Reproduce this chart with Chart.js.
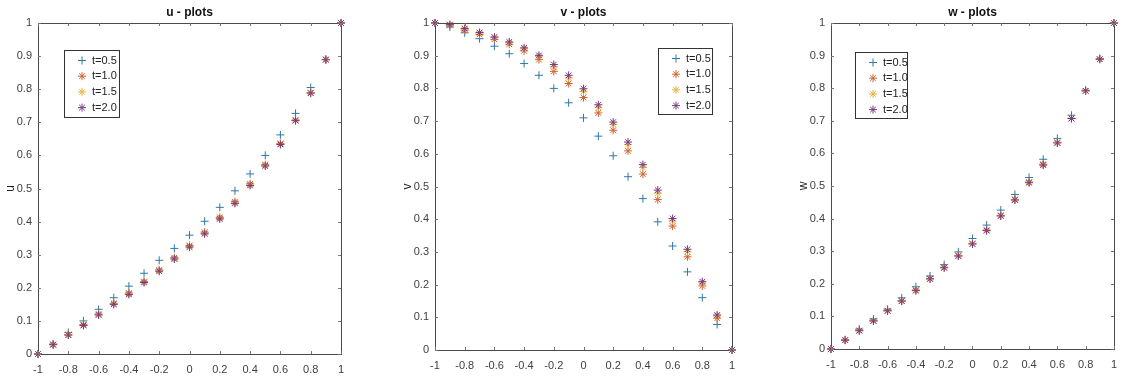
<!DOCTYPE html>
<html>
<head>
<meta charset="utf-8">
<script src="https://cdn.jsdelivr.net/npm/chart.js@4/dist/chart.umd.min.js"></script>
<style>
  html, body { margin: 0; padding: 0; background: #fff; }
  .wrap { position: absolute; top: 0; height: 383px; }
</style>
</head>
<body>
<div class="wrap" style="left:0;width:380px"><canvas id="uChart"></canvas></div>
<div class="wrap" style="left:380px;width:380px"><canvas id="vChart"></canvas></div>
<div class="wrap" style="left:760px;width:366px"><canvas id="wChart"></canvas></div>
<script>
// x positions shared by every plot
let xVals = [-1, -0.9, -0.8, -0.7, -0.6, -0.5, -0.4, -0.3, -0.2, -0.1, 0, 0.1, 0.2, 0.3, 0.4, 0.5, 0.6, 0.7, 0.8, 0.9, 1];
let seriesLabels = ["t=0.5", "t=1.0", "t=1.5", "t=2.0"];
let xTicks = [-1, -0.8, -0.6, -0.4, -0.2, 0, 0.2, 0.4, 0.6, 0.8, 1];
let yTicks = [0, 0.1, 0.2, 0.3, 0.4, 0.5, 0.6, 0.7, 0.8, 0.9, 1];

// u - plots
let u05 = [0, 0.030, 0.065, 0.100, 0.135, 0.170, 0.205, 0.244, 0.283, 0.319, 0.359, 0.401, 0.443, 0.493, 0.544, 0.600, 0.662, 0.727, 0.805, 0.890, 1];
let u10 = [0, 0.029, 0.059, 0.089, 0.121, 0.153, 0.184, 0.219, 0.254, 0.291, 0.328, 0.368, 0.413, 0.460, 0.514, 0.572, 0.636, 0.707, 0.790, 0.890, 1];
let u15 = [0, 0.028, 0.058, 0.087, 0.119, 0.151, 0.181, 0.217, 0.252, 0.288, 0.325, 0.365, 0.410, 0.457, 0.511, 0.569, 0.634, 0.705, 0.789, 0.889, 1];
let u20 = [0, 0.028, 0.057, 0.086, 0.118, 0.150, 0.180, 0.216, 0.250, 0.287, 0.323, 0.363, 0.408, 0.455, 0.509, 0.568, 0.633, 0.705, 0.788, 0.889, 1];

// v - plots
let v05 = [1, 0.988, 0.970, 0.952, 0.929, 0.906, 0.876, 0.840, 0.800, 0.756, 0.710, 0.654, 0.594, 0.530, 0.463, 0.392, 0.318, 0.239, 0.160, 0.078, 0];
let v10 = [1, 0.993, 0.978, 0.965, 0.950, 0.935, 0.915, 0.888, 0.852, 0.815, 0.772, 0.725, 0.672, 0.609, 0.538, 0.460, 0.379, 0.285, 0.196, 0.097, 0];
let v15 = [1, 0.994, 0.981, 0.969, 0.955, 0.940, 0.921, 0.897, 0.866, 0.832, 0.790, 0.742, 0.690, 0.628, 0.558, 0.480, 0.395, 0.301, 0.205, 0.104, 0];
let v20 = [1, 0.995, 0.983, 0.971, 0.957, 0.942, 0.924, 0.901, 0.873, 0.840, 0.799, 0.750, 0.697, 0.636, 0.567, 0.489, 0.402, 0.308, 0.209, 0.107, 0];

// w - plots
let w05 = [0, 0.028, 0.061, 0.092, 0.122, 0.157, 0.191, 0.224, 0.259, 0.298, 0.339, 0.380, 0.426, 0.474, 0.526, 0.582, 0.646, 0.717, 0.794, 0.891, 1];
let w10 = [0, 0.028, 0.057, 0.087, 0.118, 0.148, 0.181, 0.216, 0.251, 0.287, 0.324, 0.365, 0.410, 0.459, 0.512, 0.567, 0.634, 0.708, 0.792, 0.889, 1];
let w15 = [0, 0.027, 0.056, 0.086, 0.117, 0.147, 0.180, 0.215, 0.250, 0.286, 0.323, 0.364, 0.409, 0.458, 0.511, 0.565, 0.633, 0.707, 0.792, 0.889, 1];
let w20 = [0, 0.027, 0.056, 0.086, 0.117, 0.147, 0.179, 0.215, 0.249, 0.285, 0.322, 0.363, 0.408, 0.457, 0.510, 0.564, 0.632, 0.707, 0.792, 0.889, 1];

let colors = ['#2f78a8', '#d0612f', '#e6b23a', '#7a3a86'];
let styles = ['cross', 'star', 'star', 'star'];
const axisColor = '#4a4a4a';
const fontFamily = "'Liberation Sans', Arial, sans-serif";

//box around the axes with inward ticks on all four sides, like matlab
const boxPlugin = {
    id: 'boxPlugin',
    afterDraw(chart) {
        const ctx = chart.ctx;
        const a = chart.chartArea;
        const xs = chart.scales.x;
        const ys = chart.scales.y;
        ctx.save();
        ctx.strokeStyle = axisColor;
        ctx.lineWidth = 1;
        ctx.strokeRect(Math.round(a.left) + 0.5, Math.round(a.top) + 0.5, Math.round(a.right - a.left), Math.round(a.bottom - a.top));
        ctx.strokeStyle = '#777';
        ctx.beginPath();
        for (const t of xTicks) {
            const px = Math.round(xs.getPixelForValue(t)) + 0.5;
            ctx.moveTo(px, a.bottom); ctx.lineTo(px, a.bottom - 3);
            ctx.moveTo(px, a.top); ctx.lineTo(px, a.top + 3);
        }
        for (const t of yTicks) {
            const py = Math.round(ys.getPixelForValue(t)) + 0.5;
            ctx.moveTo(a.left, py); ctx.lineTo(a.left + 3, py);
            ctx.moveTo(a.right, py); ctx.lineTo(a.right - 3, py);
        }
        ctx.stroke();
        ctx.restore();
    }
};

//legend drawn inside the axes with a border
const legendPlugin = {
    id: 'boxLegend',
    afterDraw(chart, args, opts) {
        const ctx = chart.ctx;
        const a = chart.chartArea;
        const x0 = a.left + opts.x;
        const y0 = a.top + opts.y;
        ctx.save();
        ctx.fillStyle = '#fff';
        ctx.fillRect(x0, y0, opts.w, opts.h);
        ctx.strokeStyle = '#333';
        ctx.lineWidth = 1;
        ctx.strokeRect(Math.round(x0) + 0.5, Math.round(y0) + 0.5, opts.w, opts.h);
        seriesLabels.forEach(function (label, i) {
            const ds = chart.data.datasets[i];
            const yy = y0 + 10.5 + i * 15.7;
            ctx.strokeStyle = ds.borderColor;
            ctx.fillStyle = ds.borderColor;
            ctx.lineWidth = 1;
            Chart.helpers.drawPoint(ctx, {pointStyle: ds.pointStyle, radius: 4, rotation: 0, borderWidth: 1}, x0 + 18, yy);
            ctx.fillStyle = '#222';
            ctx.font = '11px ' + fontFamily;
            ctx.textBaseline = 'middle';
            ctx.fillText(label, x0 + 28, yy);
        });
        ctx.restore();
    }
};

function makeChart(id, titleText, yName, series, layout) {
    let datasets = series.map(function (vals, i) {
        return {
            label: seriesLabels[i],
            data: xVals.map(function (x, k) { return {x: x, y: vals[k]}; }),
            pointStyle: styles[i],
            pointRadius: 4,
            pointBorderWidth: 1,
            borderColor: colors[i],
            backgroundColor: colors[i],
            showLine: false,
            clip: false,
            order: series.length - i   // later series drawn on top
        };
    });

    return new Chart(document.getElementById(id), {
        type: 'scatter',
        data: {datasets: datasets},
        plugins: [boxPlugin, legendPlugin],
        options: {
            responsive: true,
            maintainAspectRatio: false,
            animation: false,
            layout: {padding: {left: layout.padLeft, right: layout.padRight, top: 0, bottom: 0}},
            plugins: {
                legend: {display: false},
                tooltip: {enabled: false},
                title: {
                    display: true,
                    text: titleText,
                    fullSize: false,
                    color: '#111',
                    font: {family: fontFamily, size: 12, weight: 'bold', lineHeight: 1.2},
                    padding: {top: 5, bottom: 3.6}
                },
                boxLegend: layout.legend
            },
            scales: {
                x: {
                    type: 'linear',
                    min: -1,
                    max: 1,
                    grid: {display: false, drawTicks: false},
                    border: {display: false},
                    afterBuildTicks: function (scale) {
                        scale.ticks = xTicks.map(function (v) { return {value: v}; });
                    },
                    afterFit: function (scale) { scale.height = layout.xHeight; },
                    ticks: {
                        color: '#404040',
                        padding: 9,
                        maxRotation: 0,
                        autoSkip: false,
                        font: {family: fontFamily, size: 11},
                        callback: function (v) { return String(Math.round(v * 10) / 10); }
                    }
                },
                y: {
                    type: 'linear',
                    min: 0,
                    max: 1,
                    grid: {display: false, drawTicks: false},
                    border: {display: false},
                    afterBuildTicks: function (scale) {
                        scale.ticks = yTicks.map(function (v) { return {value: v}; });
                    },
                    afterFit: function (scale) { scale.width = layout.yWidth; },
                    title: {
                        display: true,
                        text: yName,
                        color: '#222',
                        padding: 0,
                        font: {family: fontFamily, size: 12}
                    },
                    ticks: {
                        color: '#404040',
                        padding: 6,
                        autoSkip: false,
                        font: {family: fontFamily, size: 11},
                        callback: function (v) { return String(Math.round(v * 10) / 10); }
                    }
                }
            }
        }
    });
}

makeChart('uChart', 'u - plots', 'u', [u05, u10, u15, u20],
    {padLeft: 3, padRight: 39, yWidth: 35, xHeight: 29, legend: {x: 26, y: 27, w: 55, h: 67}});
makeChart('vChart', 'v - plots', 'v', [v05, v10, v15, v20],
    {padLeft: 20, padRight: 28, yWidth: 35, xHeight: 33, legend: {x: 223, y: 25, w: 54, h: 66}});
makeChart('wChart', 'w - plots', 'w', [w05, w10, w15, w20],
    {padLeft: 36, padRight: 6, yWidth: 35, xHeight: 34, legend: {x: 24, y: 29, w: 52, h: 66}});
</script>
</body>
</html>
